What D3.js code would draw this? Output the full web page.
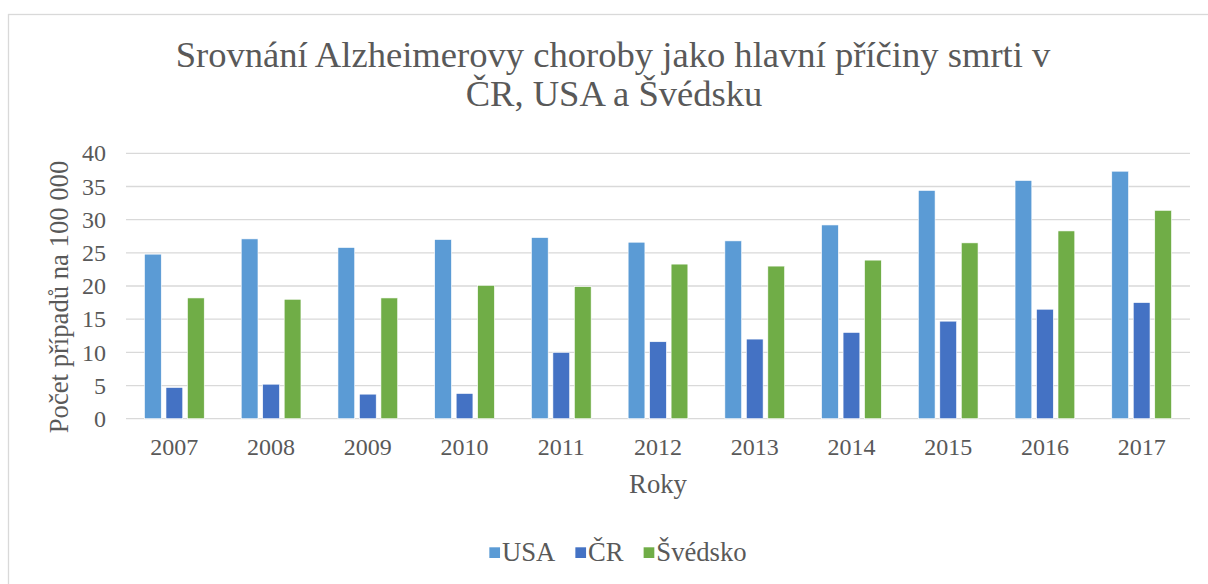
<!DOCTYPE html>
<html>
<head>
<meta charset="utf-8">
<script src="https://cdn.jsdelivr.net/npm/d3@7"></script>
<style>
  html, body { margin: 0; padding: 0; background: #fff; }
</style>
</head>
<body>
<svg id="chart" width="1208" height="584"></svg>
<script>
const years = ["2007","2008","2009","2010","2011","2012","2013","2014","2015","2016","2017"];
const seriesNames = ["USA", "ČR", "Švédsko"];
const usa = [24.8, 27.1, 25.8, 27.0, 27.3, 26.6, 26.8, 29.2, 34.4, 35.9, 37.3];
const cr = [4.7, 5.2, 3.7, 3.8, 10.0, 11.6, 12.0, 13.0, 14.7, 16.5, 17.5];
const svedsko = [18.2, 18.0, 18.2, 20.1, 19.9, 23.3, 23.0, 23.9, 26.5, 28.3, 31.4];
const yTicks = [0, 5, 10, 15, 20, 25, 30, 35, 40];
const colors = ["#5B9BD5", "#4472C4", "#70AD47"];
const titleLines = ["Srovnání Alzheimerovy choroby jako hlavní příčiny smrti v", "ČR, USA a Švédsku"];
const xTitle = "Roky";
const yTitle = "Počet případů na 100 000";

const seriesValues = [usa, cr, svedsko];
const FONT = "Liberation Serif";
const TXT = "#595959";

const svg = d3.select("#chart");

svg.append("rect")
  .attr("x", 8.5).attr("y", 14.5)
  .attr("width", 1240).attr("height", 600)
  .attr("fill", "#fff").attr("stroke", "#d9d9d9").attr("stroke-width", 1.3);

const plot = { left: 126, right: 1190, top: 153.3, bottom: 418.7 };

const x0 = d3.scaleBand().domain(years).range([plot.left, plot.right]).padding(0);
const groupPad = 18.5;
const x1 = d3.scaleBand().domain(seriesNames)
  .range([groupPad, x0.bandwidth() - groupPad]).paddingInner(0.22).paddingOuter(0);
const y = d3.scaleLinear().domain([0, 40]).range([plot.bottom, plot.top]);

svg.append("g")
  .selectAll("line").data(yTicks).join("line")
  .attr("x1", plot.left).attr("x2", plot.right)
  .attr("y1", d => y(d)).attr("y2", d => y(d))
  .attr("stroke", "#d9d9d9").attr("stroke-width", 1.3);

const rows = years.map((yr, i) => ({ year: yr, vals: seriesNames.map((s, j) => ({ s, v: seriesValues[j][i], c: colors[j] })) }));
svg.append("g").selectAll("g").data(rows).join("g")
  .attr("transform", d => `translate(${x0(d.year)},0)`)
  .selectAll("rect").data(d => d.vals).join("rect")
  .attr("x", d => x1(d.s))
  .attr("width", x1.bandwidth())
  .attr("y", d => y(d.v))
  .attr("height", d => y(0) - y(d.v))
  .attr("fill", d => d.c)
  .attr("stroke", "#fff").attr("stroke-width", 0.6);

function styleText(sel, size) {
  sel.attr("font-family", FONT).attr("font-size", size).attr("fill", TXT);
  return sel;
}

const yAxis = d3.axisLeft(y).tickValues(yTicks).tickSize(0).tickPadding(0);
const gy = svg.append("g").attr("transform", `translate(106,0)`).call(yAxis);
gy.attr("font-family", FONT);
gy.select(".domain").remove();
styleText(gy.selectAll("text"), 24);

const xAxis = d3.axisBottom(x0).tickSize(0).tickPadding(0);
const gx = svg.append("g").attr("transform", `translate(0,${plot.bottom})`).call(xAxis);
gx.attr("font-family", FONT);
gx.select(".domain").remove();
styleText(gx.selectAll("text").attr("dy", null).attr("y", 36.5), 24);

styleText(svg.append("text").attr("x", 613).attr("y", 66.5).attr("text-anchor", "middle").text(titleLines[0]), 36.6);
styleText(svg.append("text").attr("x", 614).attr("y", 106).attr("text-anchor", "middle").text(titleLines[1]), 36.6);

styleText(svg.append("text").attr("x", (plot.left + plot.right) / 2).attr("y", 493)
  .attr("text-anchor", "middle").text(xTitle), 26.67);

styleText(svg.append("text").attr("transform", "translate(68,297) rotate(-90)")
  .attr("text-anchor", "middle").text(yTitle), 26.67);

const legend = svg.append("g");
const items = legend.selectAll("g").data(seriesNames).join("g");
items.append("rect").attr("width", 10.7).attr("height", 10.7).attr("y", 547.3)
  .attr("fill", (d, i) => colors[i]);
styleText(items.append("text").attr("x", 12.7).attr("y", 560.5).text(d => d), 26.67);
const widths = [];
items.each(function() { widths.push(d3.select(this).select("text").node().getComputedTextLength()); });
const gap = 20;
const total = widths.reduce((a, w) => a + 12.7 + w, 0) + gap * (widths.length - 1);
let start = 618 - total / 2;
items.attr("transform", (d, i) => {
  const tx = start;
  start += 12.7 + widths[i] + gap;
  return `translate(${tx},0)`;
});
</script>
</body>
</html>
